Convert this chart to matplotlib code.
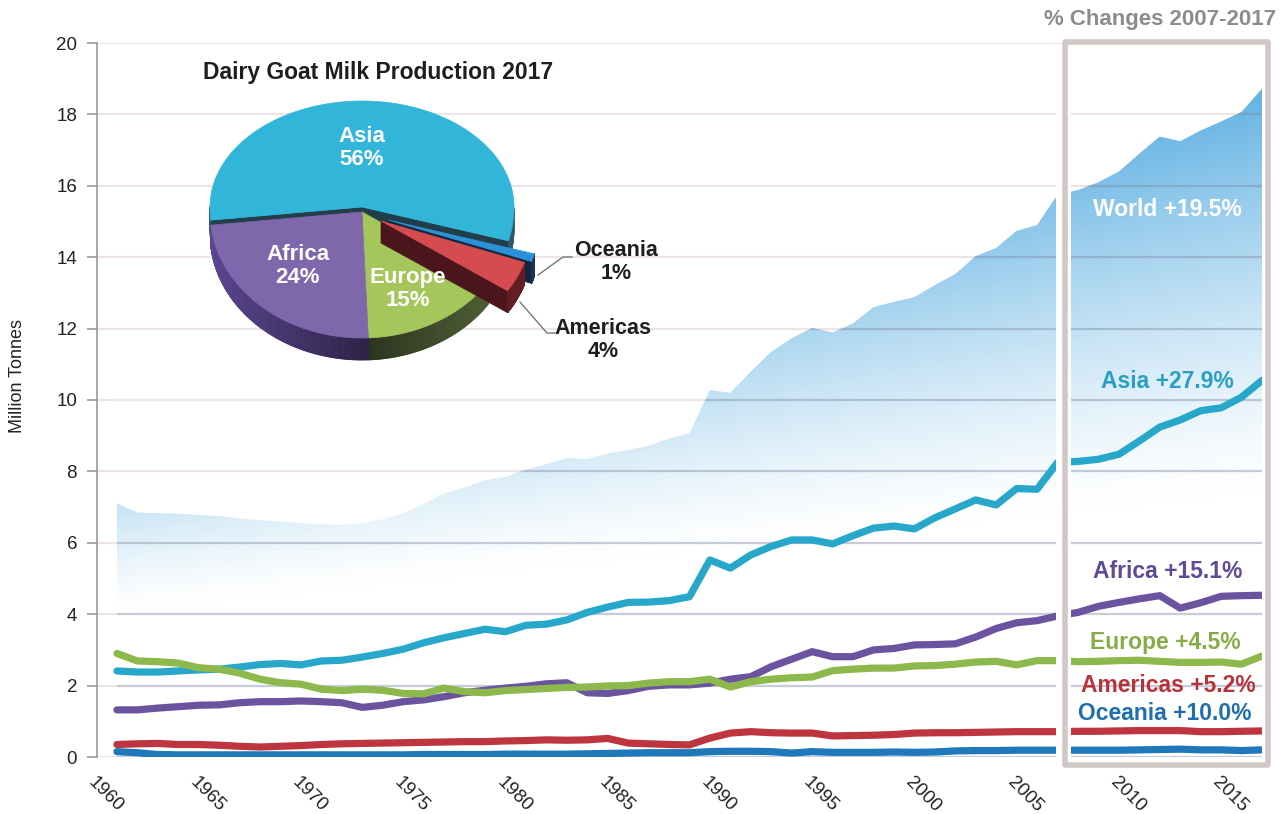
import matplotlib.pyplot as plt
import numpy as np
from matplotlib.patches import Polygon, Rectangle
from matplotlib.collections import PolyCollection
from matplotlib.colors import to_rgb

plt.rcParams['font.family'] = ['Liberation Sans', 'DejaVu Sans']

# ---- data (million tonnes), 1961-2017 ----
years = np.arange(1961, 2018)
world = [7.10, 6.85, 6.83, 6.82, 6.78, 6.75, 6.68, 6.63, 6.60, 6.55,
         6.52, 6.50, 6.55, 6.66, 6.82, 7.08, 7.38, 7.55, 7.75, 7.85,
         8.05, 8.20, 8.37, 8.35, 8.50, 8.60, 8.72, 8.92, 9.07, 10.28,
         10.20, 10.80, 11.35, 11.73, 12.02, 11.89, 12.15, 12.60, 12.75, 12.88,
         13.22, 13.53, 14.03, 14.26, 14.74, 14.90, 15.75, 15.88, 16.10, 16.40,
         16.90, 17.38, 17.25, 17.55, 17.80, 18.07, 18.72]
asia = [2.41, 2.38, 2.38, 2.41, 2.44, 2.46, 2.52, 2.59, 2.62, 2.58,
        2.69, 2.71, 2.80, 2.90, 3.02, 3.20, 3.34, 3.46, 3.58, 3.51,
        3.69, 3.72, 3.84, 4.05, 4.20, 4.33, 4.34, 4.38, 4.49, 5.52,
        5.29, 5.66, 5.90, 6.08, 6.08, 5.97, 6.20, 6.41, 6.47, 6.39,
        6.70, 6.95, 7.20, 7.06, 7.52, 7.50, 8.25, 8.28, 8.34, 8.48,
        8.85, 9.24, 9.44, 9.70, 9.78, 10.08, 10.55]
africa = [1.32, 1.32, 1.37, 1.41, 1.45, 1.46, 1.52, 1.55, 1.55, 1.57,
          1.55, 1.52, 1.39, 1.45, 1.55, 1.60, 1.69, 1.80, 1.87, 1.93,
          1.98, 2.05, 2.08, 1.80, 1.78, 1.86, 1.98, 2.02, 2.02, 2.07,
          2.18, 2.25, 2.53, 2.74, 2.95, 2.81, 2.81, 3.00, 3.04, 3.14,
          3.15, 3.17, 3.36, 3.60, 3.76, 3.82, 3.95, 4.05, 4.22, 4.33,
          4.43, 4.52, 4.17, 4.32, 4.50, 4.52, 4.53]
europe = [2.90, 2.69, 2.67, 2.63, 2.50, 2.46, 2.35, 2.18, 2.08, 2.04,
          1.90, 1.86, 1.90, 1.87, 1.78, 1.77, 1.93, 1.83, 1.80, 1.86,
          1.89, 1.92, 1.95, 1.96, 1.99, 2.00, 2.07, 2.11, 2.11, 2.18,
          1.96, 2.11, 2.18, 2.22, 2.24, 2.42, 2.46, 2.49, 2.49, 2.55,
          2.56, 2.60, 2.66, 2.68, 2.58, 2.70, 2.70, 2.67, 2.68, 2.70,
          2.71, 2.68, 2.65, 2.65, 2.66, 2.60, 2.83]
americas = [0.35, 0.37, 0.38, 0.35, 0.35, 0.33, 0.30, 0.28, 0.30, 0.32,
            0.35, 0.37, 0.38, 0.39, 0.40, 0.41, 0.42, 0.43, 0.43, 0.45,
            0.46, 0.48, 0.47, 0.48, 0.52, 0.39, 0.37, 0.35, 0.34, 0.53,
            0.67, 0.71, 0.68, 0.67, 0.67, 0.59, 0.60, 0.61, 0.63, 0.67,
            0.68, 0.68, 0.69, 0.70, 0.71, 0.71, 0.71, 0.72, 0.72, 0.73,
            0.74, 0.74, 0.74, 0.71, 0.71, 0.72, 0.73]
oceania = [0.15, 0.12, 0.07, 0.06, 0.06, 0.06, 0.06, 0.06, 0.06, 0.06,
           0.06, 0.06, 0.06, 0.06, 0.06, 0.07, 0.07, 0.07, 0.07, 0.08,
           0.08, 0.08, 0.08, 0.09, 0.10, 0.11, 0.12, 0.12, 0.12, 0.15,
           0.16, 0.16, 0.15, 0.11, 0.15, 0.13, 0.13, 0.13, 0.14, 0.13,
           0.14, 0.17, 0.18, 0.18, 0.19, 0.19, 0.19, 0.19, 0.19, 0.19,
           0.20, 0.21, 0.22, 0.20, 0.20, 0.18, 0.20]

change_labels = ['World +19.5%', 'Asia +27.9%', 'Africa +15.1%', 'Europe +4.5%',
                 'Americas +5.2%', 'Oceania +10.0%']

pie_names = ['Asia', 'Oceania', 'Americas', 'Europe', 'Africa']
pie_share = [56, 1, 4, 15, 24]

# ---- figure ----
W, H = 1283, 814
fig = plt.figure(figsize=(W / 100, H / 100), dpi=100)
ax = fig.add_axes([96.5 / W, 1 - 757 / H, (1262 - 96.5) / W, (757 - 43) / H])

# gradient filled world area (fades to white towards the bottom, tilted)
poly = ax.fill_between(years, world, 0, facecolor='none', edgecolor='none')
area_path = poly.get_paths()[0]
gx = np.linspace(1960, 2017, 300)
gy = np.linspace(0, 20, 400)
GX, GY = np.meshgrid(gx, gy)
base = 4.0 + 0.06 * (GX - 1960)
span = 6.5 + 0.09 * (GX - 1960)
t = np.clip((GY - base) / span, 0, 1) ** 1.3
blue = np.array(to_rgb('#5eb0e2'))
img = (1 - t[..., None]) * np.ones(3) + t[..., None] * blue
im = ax.imshow(img, extent=[1960, 2017, 0, 20], origin='lower', aspect='auto',
               zorder=1, interpolation='bilinear')
im.set_clip_path(area_path, transform=ax.transData)

# grid lines (pale pink, a little bluer/darker where they cross the area)
for v in range(0, 21, 2):
    ax.axhline(v, color='#c9a0a0', alpha=0.28, lw=1.6, zorder=2)
    gl = ax.axhline(v, color='#3c78b4', alpha=0.22, lw=1.6, zorder=2)
    gl.set_clip_path(area_path, transform=ax.transData)

series = [(asia, '#27a7c9'), (africa, '#6c53a0'), (europe, '#8db84b'),
          (americas, '#bf353f'), (oceania, '#1f78b9')]
for vals, col in series:
    ax.plot(years, vals, color=col, lw=5.2, solid_joinstyle='round',
            solid_capstyle='round', zorder=3)

ax.set_xlim(1960, 2017)
ax.set_ylim(0, 20)
ax.set_yticks(range(0, 21, 2))
ax.set_xticks(range(1960, 2016, 5))
for s in ['top', 'right', 'bottom']:
    ax.spines[s].set_visible(False)
ax.spines['left'].set_color('#9a9a9a')
ax.spines['left'].set_linewidth(1.2)
ax.tick_params(axis='y', length=7, width=1.2, color='#9a9a9a', pad=7,
               labelsize=13.5, labelcolor='#222222')
ax.tick_params(axis='x', length=0, pad=12, labelsize=13.5, labelcolor='#222222')
plt.setp(ax.get_xticklabels(), rotation=-45, ha='left', va='top',
         rotation_mode='anchor')

fig.text(18 / W, 1 - 376 / H, 'Million Tonnes', rotation=90, ha='center',
         va='center', fontsize=13, color='#222222')

# ---- overlay in pixel coords ----
ov = fig.add_axes([0, 0, 1, 1], zorder=5)
ov.set_xlim(0, W)
ov.set_ylim(H, 0)
ov.axis('off')
ov.patch.set_alpha(0)

# % change box
ov.add_patch(Rectangle((1056, 45), 15, 716, fc='white', ec='none'))
ov.add_patch(Rectangle((1065, 42), 203, 723, fill=False, ec='#cfc8c6', lw=4,
                       joinstyle='round'))
ov.text(1160, 20, '% Changes 2007-2017', ha='center', va='center', fontsize=16,
        fontweight='bold', color='#8c8c8c')

label_pos = [(1167, 209), (1167, 382), (1168, 571), (1165, 642), (1168, 685), (1165, 713)]
label_col = ['white', '#2a9fc1', '#5e4a96', '#86ad45', '#b8323a', '#1f6fb0']
for txt, (x, y), c in zip(change_labels, label_pos, label_col):
    ov.text(x, y, txt, ha='center', va='center', fontsize=16.5,
            fontweight='bold', color=c)

# ---- 3D pie inset ----
cx, cy = 362, 212
rx, ry_up, ry_dn, depth = 152, 106, 126, 22

def rim(tdeg):
    tr = np.radians(tdeg)
    s = np.sin(tr)
    ry = np.where(s >= 0, ry_up, ry_dn)
    return cx + rx * np.cos(tr), cy - ry * s

top_col = {'Asia': '#31b6da', 'Oceania': '#2b92d9', 'Americas': '#d64b50',
           'Europe': '#a4c65b', 'Africa': '#7e67aa'}
side_col = {'Asia': '#2e5a6a', 'Oceania': '#1d3656', 'Americas': '#6a1f27',
            'Europe': '#56663a', 'Africa': '#5a4690'}
shift = {'Asia': (0, -5), 'Oceania': (26, 8), 'Americas': (19, 9),
         'Europe': (0, 0), 'Africa': (0, 0)}

angles = {}
start = 186.0
for name, share in zip(pie_names, pie_share):
    angles[name] = (start, start - share * 3.6)
    start -= share * 3.6

def draw_slice(name):
    t1, t2 = angles[name]
    ox, oy = shift[name]
    ts = np.linspace(t1, t2, 160)
    px, py = rim(ts)
    px = px + ox
    py = py + oy
    apx, apy = cx + ox, cy + oy
    sc = np.array(to_rgb(side_col[name]))
    if (ox, oy) != (0, 0):
        for tt, vis in [(t1, np.cos(np.radians(t1)) < 0), (t2, np.cos(np.radians(t2)) > 0)]:
            if vis:
                ex, ey = rim(np.array(tt))
                ex, ey = ex + ox, ey + oy
                ov.add_patch(Polygon([(apx, apy), (ex, ey), (ex, ey + depth),
                                      (apx, apy + depth)], closed=True,
                                     fc=sc * 0.7, ec=sc * 0.7, lw=0.5))
    quads, cols = [], []
    for k in range(len(ts) - 1):
        tm = np.radians((ts[k] + ts[k + 1]) / 2)
        if np.sin(tm) < 0:
            quads.append([(px[k], py[k]), (px[k + 1], py[k + 1]),
                          (px[k + 1], py[k + 1] + depth), (px[k], py[k] + depth)])
            f = 0.5 + 0.5 * abs(np.cos(tm))
            cols.append(np.clip(sc * f, 0, 1))
    if quads:
        ov.add_collection(PolyCollection(quads, facecolors=cols, edgecolors=cols,
                                         linewidths=0.6))
    ov.add_patch(Polygon([(apx, apy)] + list(zip(px, py)), closed=True,
                         fc=top_col[name], ec=top_col[name], lw=0.5))

for name in ['Asia', 'Oceania', 'Europe', 'Africa', 'Americas']:
    draw_slice(name)

ov.text(378, 73, 'Dairy Goat Milk Production 2017', ha='center', va='center',
        fontsize=16.5, fontweight='bold', color='#1e1e1e')

inner = {'Asia': (362, 148), 'Africa': (298, 266), 'Europe': (408, 289)}
for name, share in zip(pie_names, pie_share):
    if name in inner:
        x, y = inner[name]
        ov.text(x, y, f'{name}\n{share}%', ha='center', va='center', fontsize=16,
                fontweight='bold', color='white', linespacing=1.15)

outer = {'Oceania': ((616, 262), [(538, 275), (563, 257), (572, 257)]),
         'Americas': ((603, 340), [(520, 302), (547, 333), (555, 333)])}
for name, share in zip(pie_names, pie_share):
    if name in outer:
        (x, y), pts = outer[name]
        ov.plot([p[0] for p in pts], [p[1] for p in pts], color='#777777', lw=1)
        ov.text(x, y, f'{name}\n{share}%', ha='center', va='center', fontsize=15.5,
                fontweight='bold', color='#1e1e1e', linespacing=1.15)

fig.savefig('out.png', dpi=100, facecolor='white')
